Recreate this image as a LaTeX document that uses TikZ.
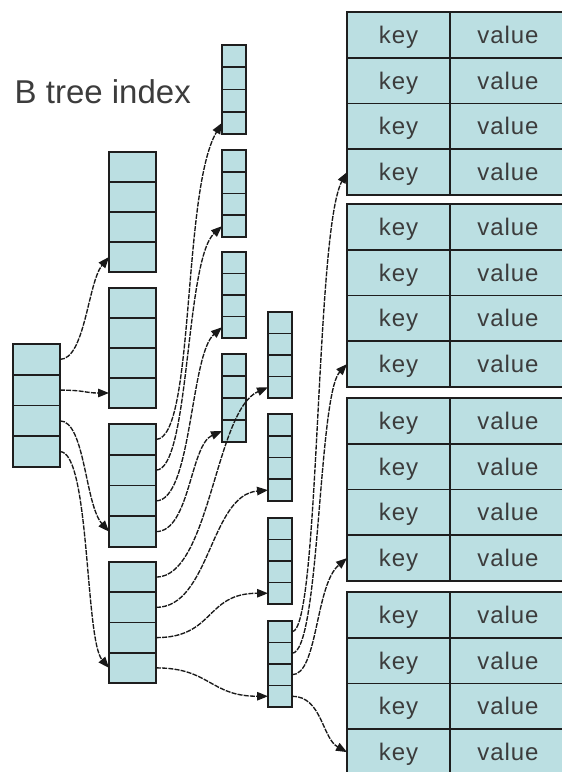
\documentclass[tikz,border=0pt]{standalone}
\usepackage{fontspec}
\setmainfont{Liberation Sans}
\newfontfamily\cellfont[LetterSpace=4]{Liberation Sans}
\usetikzlibrary{arrows.meta}
\definecolor{cellfill}{HTML}{BBDFE2}
\definecolor{cellline}{HTML}{1E1E1E}
\definecolor{txt}{HTML}{3C3C3C}
\begin{document}
\begin{tikzpicture}[x=1pt,y=-1pt,
  cell/.style={draw=cellline, fill=cellfill, line width=1.6pt, inner sep=0pt, outer sep=0pt},
  kv/.style={cell, text=txt, text height=22pt, text depth=5pt,
    font=\cellfont\fontsize{24}{28}\selectfont},
  link/.style={draw=black!90, line width=1.35pt, dash pattern=on 5pt off 1.2pt,
    -{Triangle[length=11pt,width=8.5pt]}}]
\useasboundingbox (0,0) rectangle (562,772);
\clip (0,0) rectangle (562,772);

% title
\node[anchor=base west, inner sep=0pt, text=txt, font=\fontsize{33}{38}\selectfont] (title) at (14.5,103) {B tree index};

% index pages: name / centre x / top y / width / cell height
\foreach \nm/\cx/\ty/\bw/\bh in {
    r/36.5/344/47pt/30.75, a/132.5/152/47pt/30, b/132.5/288/47pt/30,
    c/132.5/424/47pt/30.75, d/132.5/562/47pt/30.25,
    sa/234/45/24pt/22.25, sb/234/150/24pt/21.75, sc/234/252/24pt/21.5, sd/234/354/24pt/22,
    ta/280/312/24pt/21.5, tb/280/414/24pt/21.75, tc/280/518/24pt/21.5, td/280/621/24pt/21.5}
  \foreach \i in {1,...,4}
    \node[cell, minimum width=\bw, minimum height=\bh pt] (\nm\i) at (\cx, {\ty+(\i-0.5)*\bh}) {};

% key/value leaf blocks
\foreach \b/\ty in {1/12, 2/204, 3/398, 4/592}
  \foreach \i in {1,...,4} {
    \node[kv, minimum width=103pt, minimum height=45.75pt] (k\b\i) at (398.5, {\ty+(\i-0.5)*45.75}) {key};
    \node[kv, minimum width=116pt, minimum height=45.75pt] (v\b\i) at (508, {\ty+(\i-0.5)*45.75}) {value};
  }

% root -> second level
\draw[link] (r1.east) .. controls +(25,0) and +(-21,25) .. (a4.west);
\draw[link] (r2.east) .. controls +(25,0) and +(-24,0) .. (b4.west);
\draw[link] (r3.east) .. controls +(25,0) and +(-24,-27) .. (c4.west);
\draw[link] (r4.east) .. controls +(30,0) and +(-24,-28) .. (d4.west);

% third page -> small pages
\draw[link] (c1.east) .. controls +(39,0) and +(-40,67) .. (sa4.west);
\draw[link] (c2.east) .. controls +(34,0) and +(-37,34) .. (sb4.west);
\draw[link] (c3.east) .. controls +(36,0) and +(-32,28) .. (sc4.west);
\draw[link] (c4.east) .. controls +(34,0) and +(-32,14) .. (sd4.west);

% fourth page -> small pages
\draw[link] (d1.east) .. controls +(54,0) and +(-53,23) .. (ta4.west);
\draw[link] (d2.east) .. controls +(54,0) and +(-58,5) .. (tb4.west);
\draw[link] (d3.east) .. controls +(59,0) and +(-63,0) .. (tc4.west);
\draw[link] (d4.east) .. controls +(54,0) and +(-58,0) .. (td4.west);

% leaf page -> key/value blocks
\draw[link] (td1.east) .. controls +(28,0) and +(-32,58) .. (k14.west);
\draw[link] (td2.east) .. controls +(28,0) and +(-29,31) .. (k24.west);
\draw[link] (td3.east) .. controls +(26,0) and +(-32,27) .. (k34.west);
\draw[link] (td4.east) .. controls +(30,0) and +(-25,-14) .. (k44.west);
\end{tikzpicture}
\end{document}
